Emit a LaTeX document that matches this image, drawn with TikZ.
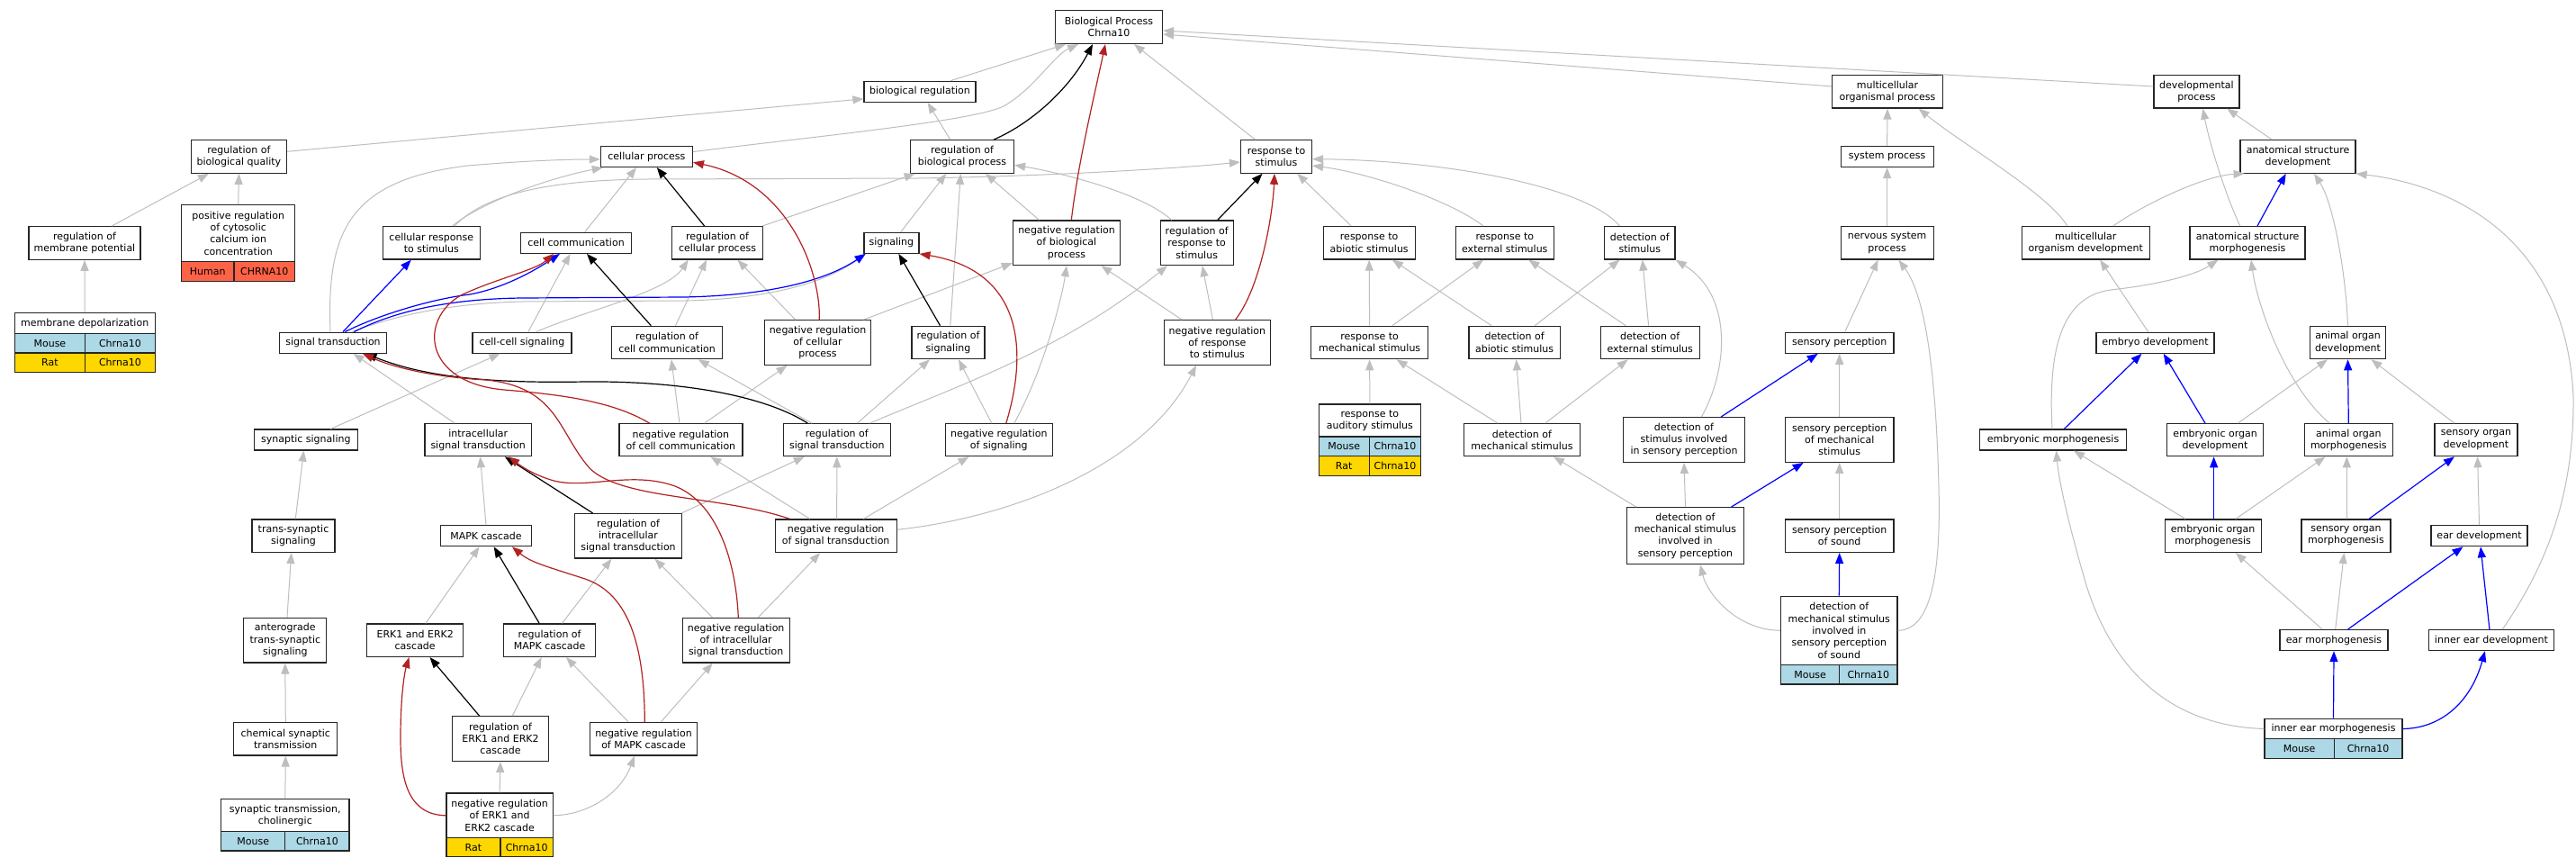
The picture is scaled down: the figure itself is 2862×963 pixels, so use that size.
\documentclass[tikz,border=0pt]{standalone}
\usepackage{fontspec}
\setmainfont{DejaVu Sans}
\usetikzlibrary{arrows.meta}
\definecolor{isagray}{HTML}{BEBEBE}
\definecolor{negred}{HTML}{B22222}
\definecolor{partblue}{HTML}{0000FF}
\definecolor{mouseblue}{HTML}{ADD8E6}
\definecolor{ratgold}{HTML}{FFD700}
\definecolor{humanred}{HTML}{FF6347}
\newcommand\gofont{\fontsize{11}{13.3}\selectfont}
\newcommand\gonode[6]{\node[gobox, minimum width=#4pt, minimum height=#5pt] (#1) at (#2,#3) {#6};}
\newcommand\gocell[7]{\pgfmathsetmacro\gcw{#4-#2}\pgfmathsetmacro\gch{#5-#3}%
  \node[gocellst, fill=#6, minimum width=\gcw pt, minimum height=\gch pt] (#1) at ({(#2+#4)/2},{(#3+#5)/2}) {#7};}
\begin{document}
\begin{tikzpicture}[x=1pt,y=-1pt,
  gobox/.style={draw=black!85, line width=1.2pt, fill=white, inner sep=0pt, align=center, font=\gofont},
  gocellst/.style={draw=black!85, line width=1.2pt, inner sep=0pt, font=\gofont},
  isa/.style={draw=isagray, line width=1pt, -{Triangle[length=12pt,width=9pt]}},
  reg/.style={draw=black, line width=1.2pt, -{Triangle[length=12pt,width=9pt]}},
  neg/.style={draw=negred, line width=1.2pt, -{Triangle[length=12pt,width=9pt]}},
  part/.style={draw=partblue, line width=1.2pt, -{Triangle[length=12pt,width=9pt]}}]
\useasboundingbox[fill=white] (0,0) rectangle (2862,963);

% ---------- nodes ----------
\gonode{bp}{1232}{30}{119}{37}{Biological Process\\Chrna10}
\gonode{bioreg}{1022}{101.8}{124}{23}{biological regulation}
\gonode{mop}{2097}{101.8}{123}{36.5}{multicellular\\organismal process}
\gonode{devp}{2440.4}{101.8}{95}{36.5}{developmental\\process}
\gonode{rbq}{265.4}{174}{106.5}{36.5}{regulation of\\biological quality}
\gonode{cellp}{718.4}{174}{102}{23}{cellular process}
\gonode{rbp}{1069}{174}{115}{36.5}{regulation of\\biological process}
\gonode{rstim}{1418}{174}{79}{36.5}{response to\\stimulus}
\gonode{sysp}{2096.6}{174}{103}{23}{system process}
\gonode{asd}{2553}{174}{128}{36.5}{anatomical structure\\development}
\gonode{rmp}{94}{270}{124}{36.5}{regulation of\\membrane potential}
\gonode{prc}{264.7}{259.2}{126}{63}{positive regulation\\of cytosolic\\calcium ion\\concentration}
\gocell{prcA}{201.7}{290.7}{259.9}{312.3}{humanred}{Human}
\gocell{prcB}{259.9}{290.7}{327.7}{312.3}{humanred}{CHRNA10}
\gonode{crs}{479.3}{269.8}{108}{36.5}{cellular response\\to stimulus}
\gonode{cc}{640}{269.8}{123}{23}{cell communication}
\gonode{rcp}{797}{269.8}{101.4}{36.5}{regulation of\\cellular process}
\gonode{sig}{990.4}{269.8}{61}{23}{signaling}
\gonode{nrbp}{1185}{269.8}{119.3}{49.6}{negative regulation\\of biological\\process}
\gonode{rrs}{1329.7}{269.8}{81}{49.6}{regulation of\\response to\\stimulus}
\gonode{rabs}{1521.2}{269.8}{102}{36.5}{response to\\abiotic stimulus}
\gonode{rext}{1671.8}{269.8}{109}{36.5}{response to\\external stimulus}
\gonode{dstim}{1821.8}{269.8}{78.5}{36.5}{detection of\\stimulus}
\gonode{nsp}{2096.6}{269.8}{103}{36.5}{nervous system\\process}
\gonode{mod}{2317.2}{269.8}{142}{36.5}{multicellular\\organism development}
\gonode{asm}{2497}{269.8}{128}{36.5}{anatomical structure\\morphogenesis}
\gonode{md}{94.2}{359.2}{156}{23}{membrane depolarization}
\gocell{mdA}{16.2}{370.7}{94.6}{392}{mouseblue}{Mouse}
\gocell{mdB}{94.6}{370.7}{172.2}{392}{mouseblue}{Chrna10}
\gocell{mdC}{16.2}{392}{94.6}{413.3}{ratgold}{Rat}
\gocell{mdD}{94.6}{392}{172.2}{413.3}{ratgold}{Chrna10}
\gonode{st}{370}{380.7}{119}{23}{signal transduction}
\gonode{ccs}{580}{380.7}{110}{23}{cell-cell signaling}
\gonode{rcc}{741}{380.5}{122.4}{36.5}{regulation of\\cell communication}
\gonode{nrcp}{908.5}{380.5}{118.5}{49.6}{negative regulation\\of cellular\\process}
\gonode{rsig}{1053.5}{380.5}{81}{36.5}{regulation of\\signaling}
\gonode{nrrs}{1352.4}{380.5}{118.5}{49.6}{negative regulation\\of response\\to stimulus}
\gonode{rmech}{1521.6}{380.5}{129.5}{36.5}{response to\\mechanical stimulus}
\gonode{dabs}{1682.6}{380.5}{101.4}{36.5}{detection of\\abiotic stimulus}
\gonode{dext}{1833.2}{380.5}{110}{36.5}{detection of\\external stimulus}
\gonode{sp}{2043.7}{380.7}{120.4}{23}{sensory perception}
\gonode{ed}{2394.5}{380.7}{131}{23}{embryo development}
\gonode{aod}{2608.5}{380.5}{84}{36.5}{animal organ\\development}
\gonode{synsig}{339.8}{488.5}{115}{23}{synaptic signaling}
\gonode{ist}{531.2}{488.7}{118.4}{36}{intracellular\\signal transduction}
\gonode{nrcc}{756.4}{488.7}{137}{36}{negative regulation\\of cell communication}
\gonode{rst}{929.8}{488.7}{119}{36}{regulation of\\signal transduction}
\gonode{nrsig}{1109.8}{488.7}{119}{36}{negative regulation\\of signaling}
\gonode{raud}{1521.9}{467}{113.4}{36}{response to\\auditory stimulus}
\gocell{raudA}{1465.2}{485}{1521.2}{506.7}{mouseblue}{Mouse}
\gocell{raudB}{1521.2}{485}{1578.6}{506.7}{mouseblue}{Chrna10}
\gocell{raudC}{1465.2}{506.7}{1521.2}{528.3}{ratgold}{Rat}
\gocell{raudD}{1521.2}{506.7}{1578.6}{528.3}{ratgold}{Chrna10}
\gonode{dmech}{1691}{488.7}{129.5}{36}{detection of\\mechanical stimulus}
\gonode{dssp}{1871}{488.5}{135}{49.6}{detection of\\stimulus involved\\in sensory perception}
\gonode{spms}{2043.7}{488.5}{120.4}{49.6}{sensory perception\\of mechanical\\stimulus}
\gonode{emorph}{2281}{488.5}{163}{23}{embryonic morphogenesis}
\gonode{eod}{2461}{488.7}{107}{36}{embryonic organ\\development}
\gonode{aom}{2609.3}{488.7}{98}{36}{animal organ\\morphogenesis}
\gonode{sod}{2750.9}{488.7}{92}{36}{sensory organ\\development}
\gonode{tss}{326}{595.2}{92}{36.5}{trans-synaptic\\signaling}
\gonode{mapk}{540}{595.2}{101}{23}{MAPK cascade}
\gonode{rist}{698}{595.3}{119}{49.5}{regulation of\\intracellular\\signal transduction}
\gonode{nrst}{928.7}{595.2}{135}{36.5}{negative regulation\\of signal transduction}
\gonode{dmsp}{1872.5}{595.2}{129.5}{63}{detection of\\mechanical stimulus\\involved in\\sensory perception}
\gonode{sps}{2043.7}{595.2}{120.4}{36.5}{sensory perception\\of sound}
\gonode{eom}{2458.6}{595.2}{107}{36.5}{embryonic organ\\morphogenesis}
\gonode{som}{2606.4}{595.2}{99}{36.5}{sensory organ\\morphogenesis}
\gonode{edev}{2754.5}{595.2}{107}{23}{ear development}
\gonode{ats}{316.8}{711.2}{92}{49.7}{anterograde\\trans-synaptic\\signaling}
\gonode{erk}{461.2}{711.2}{107}{36.5}{ERK1 and ERK2\\cascade}
\gonode{rmapk}{610.6}{711.2}{102}{36.5}{regulation of\\MAPK cascade}
\gonode{nrist}{817.7}{711.3}{119}{49.5}{negative regulation\\of intracellular\\signal transduction}
\gonode{dmss}{2043.3}{700.3}{129.5}{76}{detection of\\mechanical stimulus\\involved in\\sensory perception\\of sound}
\gocell{dmssA}{1978.5}{738.3}{2043.7}{760}{mouseblue}{Mouse}
\gocell{dmssB}{2043.7}{738.3}{2108}{760}{mouseblue}{Chrna10}
\gonode{emo}{2593}{711}{120}{23}{ear morphogenesis}
\gonode{ied}{2767.9}{711}{138.5}{23}{inner ear development}
\gonode{cst}{317.3}{820.7}{115}{36.7}{chemical synaptic\\transmission}
\gonode{rerk}{556}{820.5}{106.5}{49.6}{regulation of\\ERK1 and ERK2\\cascade}
\gonode{nrmapk}{715}{820.7}{119}{36.7}{negative regulation\\of MAPK cascade}
\gonode{iem}{2592.5}{809.5}{153}{22.4}{inner ear morphogenesis}
\gocell{iemA}{2516}{820.7}{2593.2}{842.7}{mouseblue}{Mouse}
\gocell{iemB}{2593.2}{820.7}{2669}{842.7}{mouseblue}{Chrna10}
\gonode{stc}{316.8}{905.7}{142.4}{36}{synaptic transmission,\\cholinergic}
\gocell{stcA}{245.6}{923.7}{316.8}{945}{mouseblue}{Mouse}
\gocell{stcB}{316.8}{923.7}{388}{945}{mouseblue}{Chrna10}
\gonode{nrerk}{555.1}{905.8}{118.4}{49.7}{negative regulation\\of ERK1 and\\ERK2 cascade}
\gocell{nrerkA}{495.9}{930.7}{556}{951.7}{ratgold}{Rat}
\gocell{nrerkB}{556}{930.7}{614.3}{951.7}{ratgold}{Chrna10}

% ---------- is_a (gray) ----------
\draw[isa] ([xshift=34pt]bioreg.north) -- ([xshift=-48pt]bp.south);
\draw[isa] ([yshift=5.7pt]rbq.east) -- ([yshift=-8pt]bioreg.west);
\draw[isa] ([yshift=5.4pt]cellp.east) .. controls (900,152) and (1080,135) .. (1115,118) .. controls (1150,98) and (1170,62) .. ([xshift=-34pt]bp.south);
\draw[isa] ([xshift=-23.4pt]rstim.north) -- ([xshift=28pt]bp.south);
\draw[isa] ([yshift=5.8pt]mop.west) -- ([yshift=-8pt]bp.east);
\draw[isa] ([yshift=5.8pt]devp.west) -- ([yshift=-4pt]bp.east);
\draw[isa] ([xshift=-13.2pt]rbp.north) -- ([xshift=8.6pt]bioreg.south);
\draw[isa] ([xshift=30pt]rmp.north) -- ([xshift=-33.5pt]rbq.south);
\draw[isa] (prc.north) -- (rbq.south);
\draw[isa] (md.north) -- (rmp.south);
\draw[isa] ([xshift=-3pt]st.north) .. controls (363,260) and (385,200) .. (520,184) .. controls (590,178) and (635,177) .. ([yshift=-3pt]cellp.west);
\draw[isa] ([xshift=23.4pt]crs.north) .. controls (530,228) and (600,200) .. ([xshift=3pt]cellp.south west);
\draw[isa] ([xshift=25.7pt]crs.north) .. controls (540,215) and (610,200) .. (720,199) -- (1020,198) .. controls (1150,196) and (1300,188) .. ([yshift=-6pt]rstim.west);
\draw[isa] ([xshift=9.7pt]cc.north) -- ([xshift=-11.4pt]cellp.south);
\draw[isa] ([xshift=-1pt]rcp.north east) -- ([xshift=-52.3pt]rbp.south);
\draw[isa] ([xshift=6.8pt]ccs.north) -- ([xshift=-6.4pt]cc.south);
\draw[isa] ([xshift=15.6pt]ccs.north) .. controls (650,345) and (740,325) .. ([xshift=-32.3pt]rcp.south);
\draw[isa] ([xshift=9.5pt]rcc.north) -- ([xshift=-12pt]rcp.south);
\draw[isa] ([xshift=-24.8pt]nrcp.north) -- ([xshift=22.4pt]rcp.south);
\draw[isa] ([xshift=51pt]nrcp.north) -- ([yshift=3pt]nrbp.south west);
\draw[isa] ([xshift=10.3pt]sig.north) -- ([xshift=-17.8pt]rbp.south);
\draw[isa] ([xshift=2.3pt]rsig.north) -- ([xshift=-1.7pt]rbp.south);
\draw[isa] ([xshift=-30.5pt]nrbp.north) -- ([xshift=26pt]rbp.south);
\draw[isa] ([xshift=-28pt]rrs.north) .. controls (1270,215) and (1180,192) .. ([yshift=-9.3pt]rbp.east);
\draw[isa] ([xshift=-39.4pt]nrrs.north) -- ([xshift=38.4pt]nrbp.south);
\draw[isa] ([xshift=-5pt]nrrs.north) -- ([xshift=6.2pt]rrs.south);
\draw[isa] ([xshift=-8pt]nrsig.north) -- ([xshift=11.5pt]rsig.south);
\draw[isa] ([xshift=17pt]nrsig.north) .. controls (1160,410) and (1180,330) .. (nrbp.south);
\draw[isa] ([xshift=22.7pt]rst.north) -- ([xshift=-20.6pt]rsig.south);
\draw[isa] ([xshift=36.5pt]rst.north) .. controls (1060,430) and (1180,390) .. ([xshift=-32.8pt]rrs.south);
\draw[isa] ([xshift=26.2pt]nrcc.north) -- ([xshift=-34pt]nrcp.south);
\draw[isa] ([xshift=-1.4pt]nrcc.north) -- ([xshift=4.9pt]rcc.south);
\draw[isa] ([xshift=-27.8pt]rst.north) -- ([xshift=34.8pt]rcc.south);
\draw[isa] ([yshift=6.9pt]nrst.east) .. controls (1120,575) and (1270,520) .. ([xshift=-23.4pt]nrrs.south);
\draw[isa] ([xshift=-29pt]nrst.north) -- ([xshift=33pt]nrcc.south);
\draw[isa] ([xshift=1pt]nrst.north) -- (rst.south);
\draw[isa] ([xshift=30.7pt]nrst.north) -- ([xshift=-33.3pt]nrsig.south);
\draw[isa] ([xshift=-1pt]rist.north east) -- ([xshift=-36pt]rst.south);
\draw[isa] ([xshift=-26pt]nrist.north) -- ([xshift=29.5pt]rist.south);
\draw[isa] ([xshift=24.6pt]nrist.north) -- ([xshift=-17.5pt]nrst.south);
\draw[isa] ([xshift=19.4pt]nrmapk.north) -- ([xshift=-26pt]nrist.south);
\draw[isa] ([xshift=-26pt]ist.north) -- ([xshift=22.6pt]st.south);
\draw[isa] ([xshift=27.5pt]synsig.north) -- ([xshift=-24.4pt]ccs.south);
\draw[isa] ([xshift=2.3pt]tss.north) -- ([xshift=-2.3pt]synsig.south);
\draw[isa] ([xshift=2.2pt]ats.north) -- ([xshift=-2.3pt]tss.south);
\draw[isa] (cst.north) -- (ats.south);
\draw[isa] (stc.north) -- (cst.south);
\draw[isa] (mapk.north) -- ([xshift=2.3pt]ist.south);
\draw[isa] ([xshift=11.7pt]erk.north) -- ([xshift=-7.4pt]mapk.south);
\draw[isa] ([xshift=13.8pt]rmapk.north) -- ([xshift=-18.5pt]rist.south);
\draw[isa] ([xshift=13.3pt]rerk.north) -- ([xshift=-9pt]rmapk.south);
\draw[isa] ([xshift=-17pt]nrmapk.north) -- ([xshift=18.4pt]rmapk.south);
\draw[isa] (nrerk.north) -- (rerk.south);
\draw[isa] (nrerk.east) .. controls (655,905) and (690,880) .. ([xshift=-10pt]nrmapk.south);
\draw[isa] ([xshift=-20pt]rabs.north) -- ([xshift=23.3pt]rstim.south);
\draw[isa] ([xshift=-23.8pt]rext.north) .. controls (1610,222) and (1520,192) .. ([yshift=-10pt]rstim.east);
\draw[isa] ([xshift=-22.3pt]dstim.north) .. controls (1760,205) and (1600,178) .. ([yshift=-2.7pt]rstim.east);
\draw[isa] (rmech.north) -- (rabs.south);
\draw[isa] ([xshift=25.3pt]rmech.north) -- ([xshift=-23.8pt]rext.south);
\draw[isa] ([xshift=-25.5pt]dabs.north) -- ([xshift=25.7pt]rabs.south);
\draw[isa] ([xshift=22.7pt]dabs.north) -- ([xshift=-22.3pt]dstim.south);
\draw[isa] ([xshift=-27pt]dext.north) -- ([xshift=26.6pt]rext.south);
\draw[isa] ([xshift=-1.6pt]dext.north) -- ([xshift=2.9pt]dstim.south);
\draw[isa] ([xshift=19.3pt]dssp.north) .. controls (1918,415) and (1928,330) .. (dstim.south east);
\draw[isa] (raud.north) -- (rmech.south);
\draw[isa] ([xshift=-27pt]dmech.north) -- ([xshift=30pt]rmech.south);
\draw[isa] ([xshift=-1pt]dmech.north) -- ([xshift=2pt]dabs.south);
\draw[isa] ([xshift=25.8pt]dmech.north) -- ([xshift=-24.6pt]dext.south);
\draw[isa] ([xshift=6pt]sp.north) -- ([xshift=-10pt]nsp.south);
\draw[isa] (nsp.north) -- (sysp.south);
\draw[isa] (sysp.north) -- (mop.south);
\draw[isa] (spms.north) -- (sp.south);
\draw[isa] ([xshift=-54.7pt]dmsp.north) -- ([xshift=35pt]dmech.south);
\draw[isa] (dmsp.north) -- (dssp.south);
\draw[isa] (sps.north) -- (spms.south);
\draw[isa] (dmss.west) .. controls (1930,700) and (1897,660) .. ([xshift=16.5pt]dmsp.south);
\draw[isa] (dmss.east) .. controls (2150,700) and (2156,620) .. (2154,540) .. controls (2151,420) and (2140,330) .. ([xshift=12.8pt]nsp.south);
\draw[isa] ([xshift=-20.4pt]mod.north) .. controls (2275,215) and (2180,160) .. ([xshift=34.7pt]mop.south);
\draw[isa] ([xshift=30.6pt]mod.north) .. controls (2385,225) and (2450,195) .. ([xshift=-59.4pt]asd.south);
\draw[isa] ([xshift=-28.8pt]asd.north) -- ([xshift=33.8pt]devp.south);
\draw[isa] ([xshift=-8.3pt]asm.north) .. controls (2472,215) and (2455,160) .. ([xshift=7pt]devp.south);
\draw[isa] (aod.north) .. controls (2606,300) and (2592,225) .. ([xshift=18pt]asd.south);
\draw[isa] ([xshift=12.4pt]ied.north) .. controls (2835,620) and (2860,540) .. (2859,440) .. controls (2850,260) and (2720,205) .. (asd.south east);
\draw[isa] ([xshift=-7.8pt]ed.north) -- ([xshift=16pt]mod.south);
\draw[isa] ([xshift=-1pt]emorph.north) .. controls (2276,400) and (2285,330) .. (2345,322) .. controls (2400,316) and (2440,305) .. ([xshift=-32.6pt]asm.south);
\draw[isa] ([xshift=25.3pt]eod.north) -- ([xshift=-22.6pt]aod.south);
\draw[isa] ([xshift=-21pt]aom.north) .. controls (2540,430) and (2508,340) .. ([xshift=4pt]asm.south);
\draw[isa] ([xshift=-24pt]sod.north) -- ([xshift=26pt]aod.south);
\draw[isa] ([xshift=-30.6pt]eom.north) -- ([xshift=23pt]emorph.south);
\draw[isa] ([xshift=25.3pt]eom.north) -- ([xshift=-25.8pt]aom.south);
\draw[isa] ([xshift=1pt]som.north) -- ([xshift=-2pt]aom.south);
\draw[isa] (edev.north) -- ([xshift=1.7pt]sod.south);
\draw[isa] ([xshift=-13pt]emo.north) -- ([xshift=25.3pt]eom.south);
\draw[isa] ([xshift=1.7pt]emo.north) -- ([xshift=-2pt]som.south);
\draw[isa] (iem.west) .. controls (2400,806) and (2340,730) .. (2315,640) .. controls (2295,570) and (2287,530) .. ([xshift=3.6pt]emorph.south);
\draw[isa] ([xshift=21pt]st.north) .. controls (440,350) and (500,337) .. (580,335) -- (760,334) .. controls (860,332) and (920,312) .. ([xshift=-28.7pt]sig.south);

% ---------- part_of (blue) ----------
\draw[part] ([xshift=11pt]st.north) -- ([xshift=-22.5pt]crs.south);
\draw[part] ([xshift=13.3pt]st.north) .. controls (420,350) and (480,332) .. (522,327) .. controls (560,320) and (595,300) .. ([xshift=-18pt]cc.south);
\draw[part] ([xshift=23.3pt]st.north) .. controls (440,345) and (500,332) .. (580,331) -- (760,330) .. controls (860,328) and (920,310) .. ([xshift=-28.7pt]sig.south);
\draw[part] ([xshift=41pt]dssp.north) -- ([xshift=-24pt]sp.south);
\draw[part] ([xshift=51pt]dmsp.north) -- ([xshift=-40pt]spms.south);
\draw[part] (dmss.north) -- (sps.south);
\draw[part] ([xshift=11pt]asm.north) -- ([xshift=-13.3pt]asd.south);
\draw[part] ([xshift=12.4pt]emorph.north) -- ([xshift=-15pt]ed.south);
\draw[part] ([xshift=-11pt]eod.north) -- ([xshift=9.2pt]ed.south);
\draw[part] (aom.north) -- (aod.south);
\draw[part] ([xshift=1pt]eom.north) -- ([xshift=-1.4pt]eod.south);
\draw[part] ([xshift=25.6pt]som.north) -- ([xshift=-24pt]sod.south);
\draw[part] ([xshift=15.7pt]emo.north) -- ([xshift=-18pt]edev.south);
\draw[part] ([xshift=-2pt]ied.north) -- ([xshift=1.5pt]edev.south);
\draw[part] (iem.north) -- (emo.south);
\draw[part] (iem.east) .. controls (2712,809) and (2745,780) .. ([xshift=-7pt]ied.south);

% ---------- regulates (black) ----------
\draw[reg] ([xshift=35pt]rbp.north) .. controls (1150,135) and (1190,95) .. ([xshift=-18pt]bp.south);
\draw[reg] ([xshift=-14.4pt]rcp.north) -- ([xshift=11.4pt]cellp.south);
\draw[reg] ([xshift=-17.7pt]rcc.north) -- ([xshift=12pt]cc.south);
\draw[reg] ([xshift=-9pt]rsig.north) -- ([xshift=8pt]sig.south);
\draw[reg] ([xshift=23pt]rrs.north) -- ([xshift=-15.5pt]rstim.south);
\draw[reg] ([xshift=-32.4pt]rst.north) .. controls (850,440) and (760,423) .. (650,424) .. controls (540,426) and (470,418) .. ([xshift=36.5pt]st.south);
\draw[reg] ([xshift=-39.4pt]rist.north) -- ([xshift=29.6pt]ist.south);
\draw[reg] ([xshift=-11.4pt]rmapk.north) -- ([xshift=8.7pt]mapk.south);
\draw[reg] ([xshift=-23.4pt]rerk.north) -- ([xshift=16.3pt]erk.south);

% ---------- negatively regulates (red) ----------
\draw[neg] ([xshift=1.8pt]nrcp.north) .. controls (912,300) and (875,202) .. ([yshift=-6.3pt]cellp.east);
\draw[neg] ([xshift=5.3pt]nrbp.north) .. controls (1198,180) and (1215,110) .. ([xshift=-4pt]bp.south);
\draw[neg] ([xshift=20.2pt]nrrs.north) .. controls (1400,320) and (1414,240) .. ([xshift=-2pt]rstim.south);
\draw[neg] ([xshift=8pt]nrsig.north) .. controls (1145,380) and (1130,300) .. (sig.south east);
\draw[neg] ([xshift=-34.8pt]nrcc.north) .. controls (680,445) and (620,438) .. (560,433) .. controls (470,425) and (465,355) .. (512,328) .. controls (550,310) and (595,300) .. ([xshift=-25pt]cc.south);
\draw[neg] ([xshift=-51.2pt]nrst.north) .. controls (800,550) and (690,555) .. (655,520) .. controls (620,480) and (620,430) .. (540,422) .. controls (470,418) and (430,405) .. ([xshift=33pt]st.south);
\draw[neg] ([xshift=2.6pt]nrist.north) .. controls (818,630) and (800,560) .. (750,540) .. controls (700,522) and (650,545) .. (612,533) .. controls (590,526) and (578,517) .. ([xshift=34pt]ist.south);
\draw[neg] ([xshift=1.3pt]nrmapk.north) .. controls (716,720) and (700,660) .. (650,643) .. controls (610,630) and (590,625) .. ([xshift=29pt]mapk.south);
\draw[neg] (nrerk.west) .. controls (455,905) and (445,870) .. (445,820) .. controls (445,770) and (450,745) .. ([xshift=-6.7pt]erk.south);
\end{tikzpicture}
\end{document}
